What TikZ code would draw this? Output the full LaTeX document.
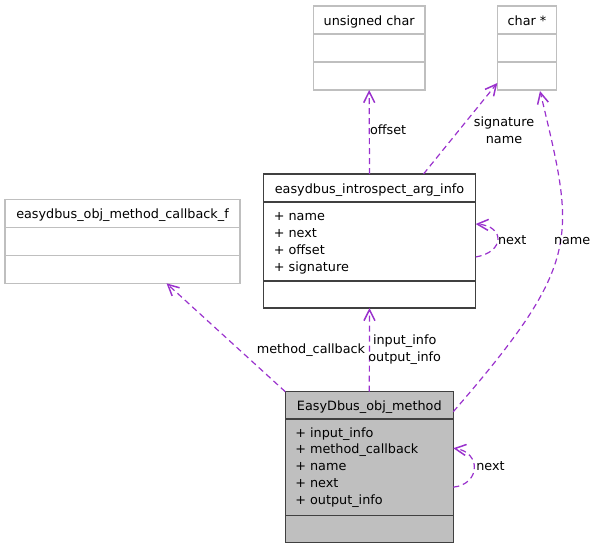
\documentclass[tikz,border=0pt]{standalone}
\usepackage{fontspec}
\setmainfont{DejaVu Sans}
\usetikzlibrary{arrows.meta,calc}
\definecolor{edgec}{HTML}{9A32CD}
\definecolor{grayc}{HTML}{BFBFBF}
\begin{document}
\begin{tikzpicture}[x=1pt,y=-1pt,
  every node/.style={font=\fontsize{12.8}{17}\selectfont, inner sep=0pt, outer sep=0pt},
  graybox/.style={draw=grayc, line width=1.2pt, fill=white, rectangle},
  mainbox/.style={draw=black!75, line width=1.5pt, rectangle},
  graydiv/.style={draw=grayc, line width=1.2pt},
  maindiv/.style={draw=black!75, line width=1.5pt},
  hdr/.style={anchor=base},
  attr/.style={anchor=base west},
  lbl/.style={anchor=base},
  edge/.style={draw=edgec, line width=1.2pt, dash pattern=on 6pt off 4pt,
    -{Straight Barb[length=11pt,width=11pt,line width=1.5pt]}}
]
\useasboundingbox (0,0) rectangle (596,549);

% boxes
\node[graybox, minimum width=111.7pt, minimum height=84pt] (uc) at (369.15,48) {};
\node[graybox, minimum width=59.4pt, minimum height=84pt] (cs) at (527,48) {};
\node[graybox, minimum width=235pt, minimum height=84pt] (cb) at (122.5,241.3) {};
\node[mainbox, fill=white, minimum width=212.4pt, minimum height=134pt] (ai) at (369.5,241) {};
\node[mainbox, fill=grayc, minimum width=168pt, minimum height=151pt] (om) at (369.3,467.2) {};

% dividers
\draw[graydiv] ($(uc.north west)+(0,28)$) -- ($(uc.north east)+(0,28)$);
\draw[graydiv] ($(uc.north west)+(0,56)$) -- ($(uc.north east)+(0,56)$);
\draw[graydiv] ($(cs.north west)+(0,28)$) -- ($(cs.north east)+(0,28)$);
\draw[graydiv] ($(cs.north west)+(0,56)$) -- ($(cs.north east)+(0,56)$);
\draw[graydiv] ($(cb.north west)+(0,28.4)$) -- ($(cb.north east)+(0,28.4)$);
\draw[graydiv] ($(cb.north west)+(0,56.4)$) -- ($(cb.north east)+(0,56.4)$);
\draw[maindiv] ($(ai.north west)+(0,28)$) -- ($(ai.north east)+(0,28)$);
\draw[maindiv] ($(ai.north west)+(0,107)$) -- ($(ai.north east)+(0,107)$);
\draw[maindiv] ($(om.north west)+(0,27.3)$) -- ($(om.north east)+(0,27.3)$);
\draw[maindiv] ($(om.north west)+(0,123.6)$) -- ($(om.north east)+(0,123.6)$);

% headers
\node[hdr] (uct) at ($(uc.north)+(0,19.3)$) {unsigned char};
\node[hdr] (cst) at ($(cs.north)+(0,19.3)$) {char *};
\node[hdr] (cbt) at ($(cb.north)+(0,19)$) {easydbus\_obj\_method\_callback\_f};
\node[hdr] (ait) at ($(ai.north)+(0,19.3)$) {easydbus\_introspect\_arg\_info};
\node[hdr] (omt) at ($(om.north)+(0,18.8)$) {EasyDbus\_obj\_method};

% attributes
\foreach \t [count=\i] in {name,next,offset,signature}
  \node[attr] (aia\i) at ($(ai.north west)+(10.5,{46+17*(\i-1)})$) {+ \t};
\foreach \t [count=\i] in {input\_info,method\_callback,name,next,output\_info}
  \node[attr] (oma\i) at ($(om.north west)+(10,{45.3+16.8*(\i-1)})$) {+ \t};

% edges
\draw[edge] (ai.north) -- (uc.south);
\draw[edge] ([xshift=54pt]ai.north) -- ([yshift=7pt]cs.south west);
\draw[edge] ([yshift=-20pt]om.north east) .. controls (584,261) and (575,238) .. ([xshift=13pt,yshift=-1pt]cs.south);
\draw[edge] ([yshift=-16pt]ai.east) .. controls (505,252) and (505,226) .. ([yshift=17pt]ai.east);
\draw[edge] ([yshift=-20pt]om.east) .. controls (481,484) and (481,452) .. ([yshift=19pt]om.east);
\draw[edge] (om.north) -- (ai.south);
\draw[edge] (om.north west) -- ([xshift=44pt]cb.south);

% edge labels
\node[attr] (l1) at (370,134) {offset};
\node[lbl] (l2a) at (504,126.7) {signature};
\node[lbl] (l2b) at (504,143.3) {name};
\node[attr] (l3) at (554,244) {name};
\node[attr] (l4) at (498,244.3) {next};
\node[attr] (l5) at (476.3,470.3) {next};
\node[lbl] (l6a) at (404.7,344.7) {input\_info};
\node[lbl] (l6b) at (404.7,361.7) {output\_info};
\node[lbl] (l7) at (311,353.3) {method\_callback};
\end{tikzpicture}
\end{document}
